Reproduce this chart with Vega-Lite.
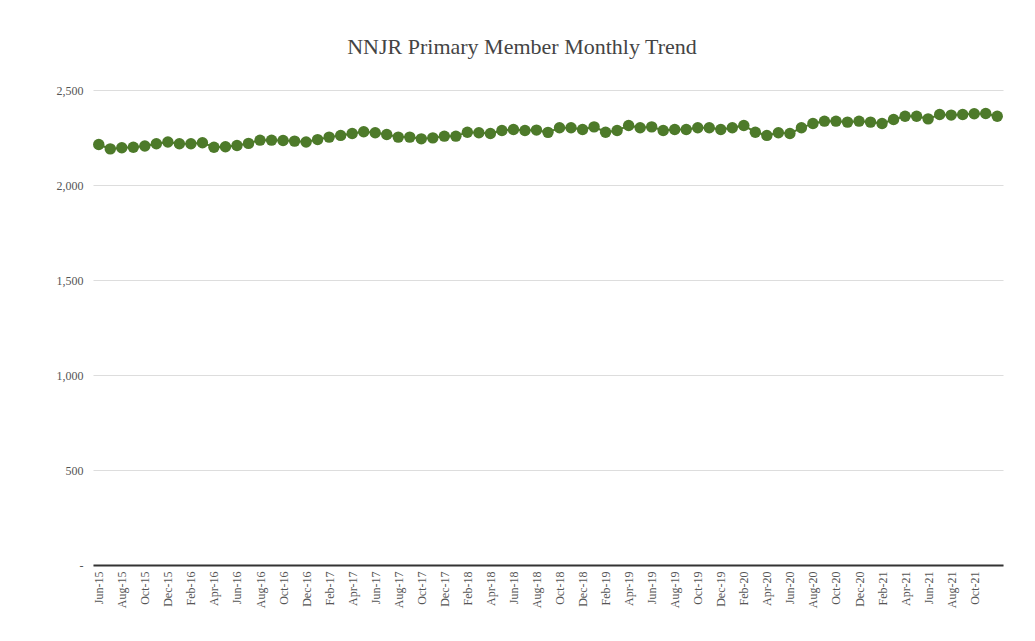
{
  "$schema": "https://vega.github.io/schema/vega-lite/v6.json",
  "width": 910,
  "height": 475,
  "autosize": {"type": "none"},
  "padding": {"left": 93, "top": 90, "right": 32, "bottom": 76},
  "background": "white",
  "title": {
    "text": "NNJR Primary Member Monthly Trend",
    "font": "Liberation Serif",
    "fontSize": 22,
    "fontWeight": "normal",
    "color": "#444444",
    "anchor": "middle",
    "dx": -26,
    "offset": 25
  },
  "config": {"view": {"stroke": null}},
  "data": {
    "values": [
      {"month": "Jun-15", "members": 2213},
      {"month": "Jul-15", "members": 2190},
      {"month": "Aug-15", "members": 2196},
      {"month": "Sep-15", "members": 2199},
      {"month": "Oct-15", "members": 2205},
      {"month": "Nov-15", "members": 2217},
      {"month": "Dec-15", "members": 2226},
      {"month": "Jan-16", "members": 2217},
      {"month": "Feb-16", "members": 2217},
      {"month": "Mar-16", "members": 2222},
      {"month": "Apr-16", "members": 2199},
      {"month": "May-16", "members": 2201},
      {"month": "Jun-16", "members": 2208},
      {"month": "Jul-16", "members": 2219},
      {"month": "Aug-16", "members": 2236},
      {"month": "Sep-16", "members": 2236},
      {"month": "Oct-16", "members": 2234},
      {"month": "Nov-16", "members": 2231},
      {"month": "Dec-16", "members": 2226},
      {"month": "Jan-17", "members": 2239},
      {"month": "Feb-17", "members": 2252},
      {"month": "Mar-17", "members": 2261},
      {"month": "Apr-17", "members": 2271},
      {"month": "May-17", "members": 2280},
      {"month": "Jun-17", "members": 2275},
      {"month": "Jul-17", "members": 2266},
      {"month": "Aug-17", "members": 2252},
      {"month": "Sep-17", "members": 2252},
      {"month": "Oct-17", "members": 2243},
      {"month": "Nov-17", "members": 2248},
      {"month": "Dec-17", "members": 2257},
      {"month": "Jan-18", "members": 2257},
      {"month": "Feb-18", "members": 2278},
      {"month": "Mar-18", "members": 2275},
      {"month": "Apr-18", "members": 2271},
      {"month": "May-18", "members": 2287},
      {"month": "Jun-18", "members": 2292},
      {"month": "Jul-18", "members": 2287},
      {"month": "Aug-18", "members": 2289},
      {"month": "Sep-18", "members": 2277},
      {"month": "Oct-18", "members": 2301},
      {"month": "Nov-18", "members": 2301},
      {"month": "Dec-18", "members": 2292},
      {"month": "Jan-19", "members": 2306},
      {"month": "Feb-19", "members": 2278},
      {"month": "Mar-19", "members": 2287},
      {"month": "Apr-19", "members": 2313},
      {"month": "May-19", "members": 2301},
      {"month": "Jun-19", "members": 2306},
      {"month": "Jul-19", "members": 2287},
      {"month": "Aug-19", "members": 2292},
      {"month": "Sep-19", "members": 2292},
      {"month": "Oct-19", "members": 2301},
      {"month": "Nov-19", "members": 2301},
      {"month": "Dec-19", "members": 2292},
      {"month": "Jan-20", "members": 2301},
      {"month": "Feb-20", "members": 2313},
      {"month": "Mar-20", "members": 2278},
      {"month": "Apr-20", "members": 2261},
      {"month": "May-20", "members": 2275},
      {"month": "Jun-20", "members": 2271},
      {"month": "Jul-20", "members": 2301},
      {"month": "Aug-20", "members": 2324},
      {"month": "Sep-20", "members": 2336},
      {"month": "Oct-20", "members": 2336},
      {"month": "Nov-20", "members": 2331},
      {"month": "Dec-20", "members": 2336},
      {"month": "Jan-21", "members": 2331},
      {"month": "Feb-21", "members": 2324},
      {"month": "Mar-21", "members": 2345},
      {"month": "Apr-21", "members": 2362},
      {"month": "May-21", "members": 2362},
      {"month": "Jun-21", "members": 2348},
      {"month": "Jul-21", "members": 2371},
      {"month": "Aug-21", "members": 2368},
      {"month": "Sep-21", "members": 2371},
      {"month": "Oct-21", "members": 2375},
      {"month": "Nov-21", "members": 2376},
      {"month": "Dec-21", "members": 2362}
    ]
  },
  "encoding": {
    "x": {
      "field": "month",
      "type": "ordinal",
      "sort": null,
      "scale": {"type": "point", "padding": 0.5},
      "axis": {
        "title": null,
        "labelAngle": -90,
        "labelFont": "Liberation Serif",
        "labelFontSize": 12,
        "labelColor": "#555555",
        "domainColor": "#333333",
        "domainWidth": 2,
        "ticks": false,
        "grid": false,
        "labelPadding": 6,
        "values": ["Jun-15","Aug-15","Oct-15","Dec-15","Feb-16","Apr-16","Jun-16","Aug-16","Oct-16","Dec-16","Feb-17","Apr-17","Jun-17","Aug-17","Oct-17","Dec-17","Feb-18","Apr-18","Jun-18","Aug-18","Oct-18","Dec-18","Feb-19","Apr-19","Jun-19","Aug-19","Oct-19","Dec-19","Feb-20","Apr-20","Jun-20","Aug-20","Oct-20","Dec-20","Feb-21","Apr-21","Jun-21","Aug-21","Oct-21"]
      }
    },
    "y": {
      "field": "members",
      "type": "quantitative",
      "scale": {"domain": [0, 2500]},
      "axis": {
        "title": null,
        "values": [0, 500, 1000, 1500, 2000, 2500],
        "labelExpr": "datum.value == 0 ? '-' : format(datum.value, ',')",
        "labelFont": "Liberation Serif",
        "labelFontSize": 12,
        "labelColor": "#555555",
        "domain": false,
        "ticks": false,
        "grid": true,
        "gridColor": "#dddddd",
        "gridWidth": 1,
        "labelPadding": 10
      }
    }
  },
  "layer": [
    {"mark": {"type": "line", "color": "#4d7a2a", "strokeWidth": 2}},
    {"mark": {"type": "point", "filled": true, "size": 130, "color": "#4d7a2a", "opacity": 1}}
  ]
}
